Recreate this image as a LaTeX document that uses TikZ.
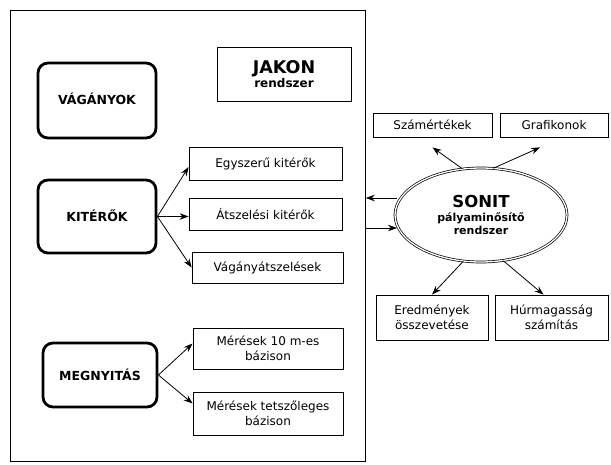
\documentclass[tikz,border=0pt]{standalone}
\usepackage{fontspec}
\setmainfont{DejaVu Sans}
\usetikzlibrary{arrows.meta,calc,shapes.geometric}
\begin{document}
\begin{tikzpicture}[x=1pt,y=-1pt,
  box/.style={draw, line width=0.8pt, inner sep=0pt, align=center, font=\fontsize{12}{15}\selectfont},
  rbox/.style={draw, line width=2.8pt, rounded corners=10pt, inner sep=0pt, font=\fontsize{12.5}{15}\selectfont\bfseries},
  arr/.style={-{Stealth[length=9pt,width=6.5pt]}, line width=0.8pt}]
\useasboundingbox (0,0) rectangle (611,464);
\node[draw, line width=0.8pt, minimum width=355pt, minimum height=451pt, anchor=north west, inner sep=0pt] (frame) at (10,10) {};
% left column
\node[rbox, minimum width=118pt, minimum height=75pt] (vag) at (97,100.5) {\raisebox{3pt}{VÁGÁNYOK}};
\node[rbox, minimum width=118pt, minimum height=73pt] (kit) at (97,216.5) {\raisebox{2pt}{KITÉRŐK}};
\node[rbox, minimum width=114pt, minimum height=64pt] (meg) at (100,375) {MEGNYITÁS};
% JAKON
\node[box, minimum width=134pt, minimum height=54pt] (jakon) at (284,74)
  {{\fontsize{17.5}{19}\selectfont\bfseries JAKON}\\[-1pt]{\fontsize{12}{14}\selectfont\bfseries rendszer}};
% middle column
\node[box, minimum width=153pt, minimum height=33pt] (egy) at (265.5,163.5) {Egyszerű kitérők};
\node[box, minimum width=153pt, minimum height=32pt] (atsz) at (265.5,214) {Átszelési kitérők};
\node[box, minimum width=151pt, minimum height=31pt] (vagat) at (267.5,267.5) {Vágányátszelések};
\node[box, minimum width=150pt, minimum height=41pt] (mer10) at (268,348.5) {Mérések 10 m-es\\bázison};
\node[box, minimum width=150pt, minimum height=43pt] (mertet) at (268,413.5) {Mérések tetszőleges\\bázison};
% right part
\node[box, minimum width=119pt, minimum height=24pt] (szam) at (432.5,125) {Számértékek};
\node[box, minimum width=108pt, minimum height=24pt] (graf) at (554,125) {Grafikonok};
\node[ellipse, draw, double, double distance=1.3pt, line width=0.7pt, minimum width=172pt, minimum height=94pt, inner sep=0pt, align=center] (sonit) at (481,215)
  {{\fontsize{16.5}{18}\selectfont\bfseries SONIT}\\[2pt]{\fontsize{11}{14}\selectfont\bfseries pályaminősítő}\\[1pt]{\fontsize{11}{14}\selectfont\bfseries rendszer}};
\node[box, minimum width=112pt, minimum height=45pt] (eredm) at (432,317.5) {Eredmények\\összevetése};
\node[box, minimum width=113pt, minimum height=45pt] (hur) at (551.5,317.5) {Húrmagasság\\számítás};
% arrows left
\draw[arr] (kit.east) -- ($(egy.west)+(0,3.5)$);
\draw[arr] (kit.east) -- (kit.east -| atsz.west);
\draw[arr] (kit.east) -- (vagat.west);
\draw[arr] (meg.east) -- ($(mer10.west)+(0,-5)$);
\draw[arr] (meg.east) -- ($(mertet.west)+(0,-10)$);
% frame <-> sonit
\coordinate (la) at (397,198);
\coordinate (rb) at (397,228);
\draw[arr] (la) -- (la -| frame.east);
\draw[arr] (rb -| frame.east) -- (rb);
% sonit outputs
\draw[arr] (sonit.112) -- ($(szam.south)+(0,10)$);
\draw[arr] (sonit.75) -- ($(graf.south)+(-14,10)$);
\draw[arr] (sonit.249) -- (eredm.north);
\draw[arr] (sonit.296) -- ($(hur.north)+(-8,0)$);
\end{tikzpicture}
\end{document}
